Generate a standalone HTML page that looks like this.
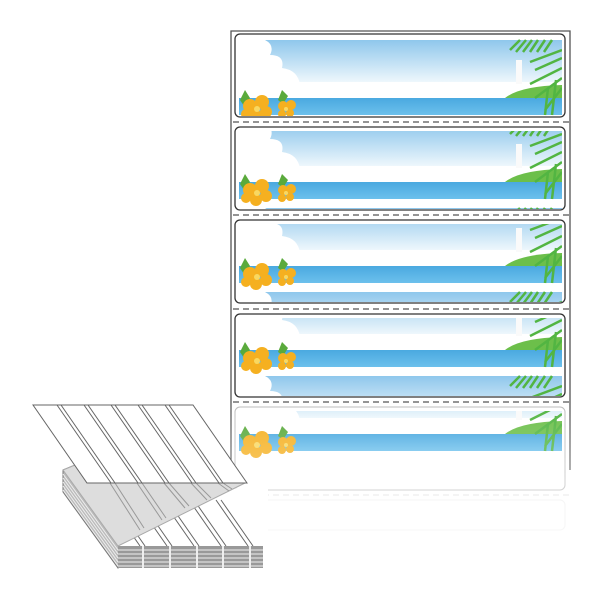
<!DOCTYPE html>
<html><head><style>html,body{margin:0;padding:0;background:#fff;width:600px;height:600px;overflow:hidden}</style></head>
<body>
<svg width="600" height="600" viewBox="0 0 600 600" xmlns="http://www.w3.org/2000/svg">
<defs>
<linearGradient id="sky" x1="0" y1="0" x2="0" y2="1">
<stop offset="0" stop-color="#8fc7ec"/><stop offset="1" stop-color="#eef7fc"/></linearGradient>
<linearGradient id="sea" x1="0" y1="0" x2="0" y2="1">
<stop offset="0" stop-color="#4aa9e0"/><stop offset="1" stop-color="#6cc0ec"/></linearGradient>
<linearGradient id="fade" x1="0" y1="0" x2="0" y2="1">
<stop offset="0" stop-color="#fff" stop-opacity="0"/><stop offset="1" stop-color="#fff" stop-opacity="1"/></linearGradient>
<clipPath id="lab">
<rect x="239" y="38" width="323" height="78"/>
<rect x="239" y="131" width="323" height="78"/>
<rect x="239" y="224" width="323" height="78"/>
<rect x="239" y="318" width="323" height="78"/>
<rect x="239" y="411" width="323" height="78"/>
</clipPath>
<g id="t">
<rect x="239" y="0" width="323" height="42" fill="url(#sky)"/>
<rect x="239" y="42" width="323" height="16" fill="#fff"/>
<rect x="239" y="58" width="323" height="17" fill="url(#sea)"/>
<path d="M239 58 L239 0 L265 0 Q275 5 270 15 Q285 15 282 28 Q298 30 300 45 Q298 56 290 58Z" fill="#fff"/>
<path d="M505 58 Q520 46 562 45 L562 58Z" fill="#6cbf4a"/>
<rect x="516" y="20" width="6" height="24" fill="#fafafa"/>
<g stroke="#52b542" stroke-width="2.5" fill="none">
<path d="M562 10 L530 22 M562 18 L535 30 M562 28 L530 44 M562 38 L535 58 M562 48 L545 70 M556 40 L552 75 M548 48 L545 75"/>
<path d="M510 10 L520 0 M516 12 L526 0 M523 12 L532 0 M530 12 L538 0 M537 12 L545 0 M544 12 L552 0"/>
</g>
<path d="M240 60 L245 50 L250 58 L244 66Z" fill="#5aaa3c"/>
<path d="M278 60 L282 50 L288 56 L283 64Z" fill="#5aaa3c"/>
<g fill="#f5b020">
<circle cx="250" cy="66" r="7"/><circle cx="262" cy="62" r="7"/><circle cx="266" cy="72" r="6"/><circle cx="256" cy="76" r="6"/><circle cx="246" cy="74" r="5"/>
<circle cx="283" cy="66" r="5"/><circle cx="291" cy="65" r="5"/><circle cx="290" cy="73" r="4"/><circle cx="282" cy="74" r="4"/>
</g>
<circle cx="257" cy="69" r="3" fill="#f9d860"/><circle cx="286" cy="69" r="2" fill="#f9d860"/>
</g>
</defs>
<path d="M231 470 V31 H570 V470" fill="none" stroke="#555" stroke-width="1.3"/>
<g clip-path="url(#lab)">
<use href="#t" y="40"/><use href="#t" y="124"/><use href="#t" y="208"/>
<use href="#t" y="292"/><use href="#t" y="376"/>
</g>
<g fill="none" stroke="#333" stroke-width="1.3">
<rect x="235" y="34" width="330" height="83" rx="5"/>
<rect x="235" y="127" width="330" height="83" rx="5"/>
<rect x="235" y="220" width="330" height="83" rx="5"/>
<rect x="235" y="314" width="330" height="83" rx="5"/>
</g>
<rect x="235" y="407" width="330" height="83" rx="5" fill="none" stroke="#bbb" stroke-width="1"/>
<g stroke="#555" stroke-width="1.2" stroke-dasharray="6 4">
<line x1="233" y1="122" x2="569" y2="122"/><line x1="233" y1="215" x2="569" y2="215"/>
<line x1="233" y1="309" x2="569" y2="309"/><line x1="233" y1="402" x2="569" y2="402"/>
</g>
<line x1="233" y1="495" x2="569" y2="495" stroke="#ddd" stroke-dasharray="6 4"/>
<rect x="235" y="500" width="330" height="30" rx="5" fill="none" stroke="#eee"/>
<rect x="225" y="400" width="350" height="140" fill="url(#fade)" opacity="0.55"/>
<g stroke="#777" stroke-width="1">
<polygon points="63,470 75,465 130,545 118,568 63,492" fill="#bbb"/>
<g stroke="#eee" stroke-width="1">
<line x1="63" y1="474" x2="118" y2="550"/><line x1="63" y1="478" x2="118" y2="554"/>
<line x1="63" y1="482" x2="118" y2="558"/><line x1="63" y1="486" x2="118" y2="562"/>
<line x1="63" y1="490" x2="118" y2="566"/>
</g>
<polygon points="118,546 245,484 268,484 268,546" fill="#fff" stroke="none"/>
<g fill="none" stroke="#666">
<path d="M140 546 L108 500 M145 546 L113 500 M167 546 L135 500 M172 546 L140 500 M194 546 L162 500 M199 546 L167 500 M221 546 L189 500 M226 546 L194 500 M248 546 L216 500 M253 546 L221 500"/>
</g>
<rect x="118" y="546" width="145" height="22" fill="#999" stroke="none"/>
<g stroke="#eee">
<line x1="118" y1="550" x2="263" y2="550"/><line x1="118" y1="554" x2="263" y2="554"/>
<line x1="118" y1="558" x2="263" y2="558"/><line x1="118" y1="562" x2="263" y2="562"/>
<line x1="118" y1="566" x2="263" y2="566"/>
<line x1="143" y1="546" x2="143" y2="568" stroke-width="2"/><line x1="170" y1="546" x2="170" y2="568" stroke-width="2"/>
<line x1="197" y1="546" x2="197" y2="568" stroke-width="2"/><line x1="223" y1="546" x2="223" y2="568" stroke-width="2"/>
<line x1="250" y1="546" x2="250" y2="568" stroke-width="2"/>
</g>
<polygon points="63,470 75,465 87,483 245,483 118,546" fill="#ddd" stroke="#aaa"/>
<g stroke="#999" fill="none">
<path d="M110 483 L140 530 M115 483 L144 528 M137 483 L162 520 M142 483 L166 518 M164 483 L185 508 M169 483 L189 506 M191 483 L207 500 M196 483 L211 498 M218 483 L229 491 M223 483 L232 489"/>
</g>
<polygon points="33,405 193,405 247,483 87,483" fill="#fff" stroke="#666"/>
<g stroke="#666" fill="none">
<path d="M57 405 L111 483 M61 405 L115 483 M84 405 L138 483 M88 405 L142 483 M111 405 L165 483 M115 405 L169 483 M138 405 L192 483 M142 405 L196 483 M165 405 L219 483 M169 405 L223 483"/>
</g>
</g>
</svg>
</body></html>
